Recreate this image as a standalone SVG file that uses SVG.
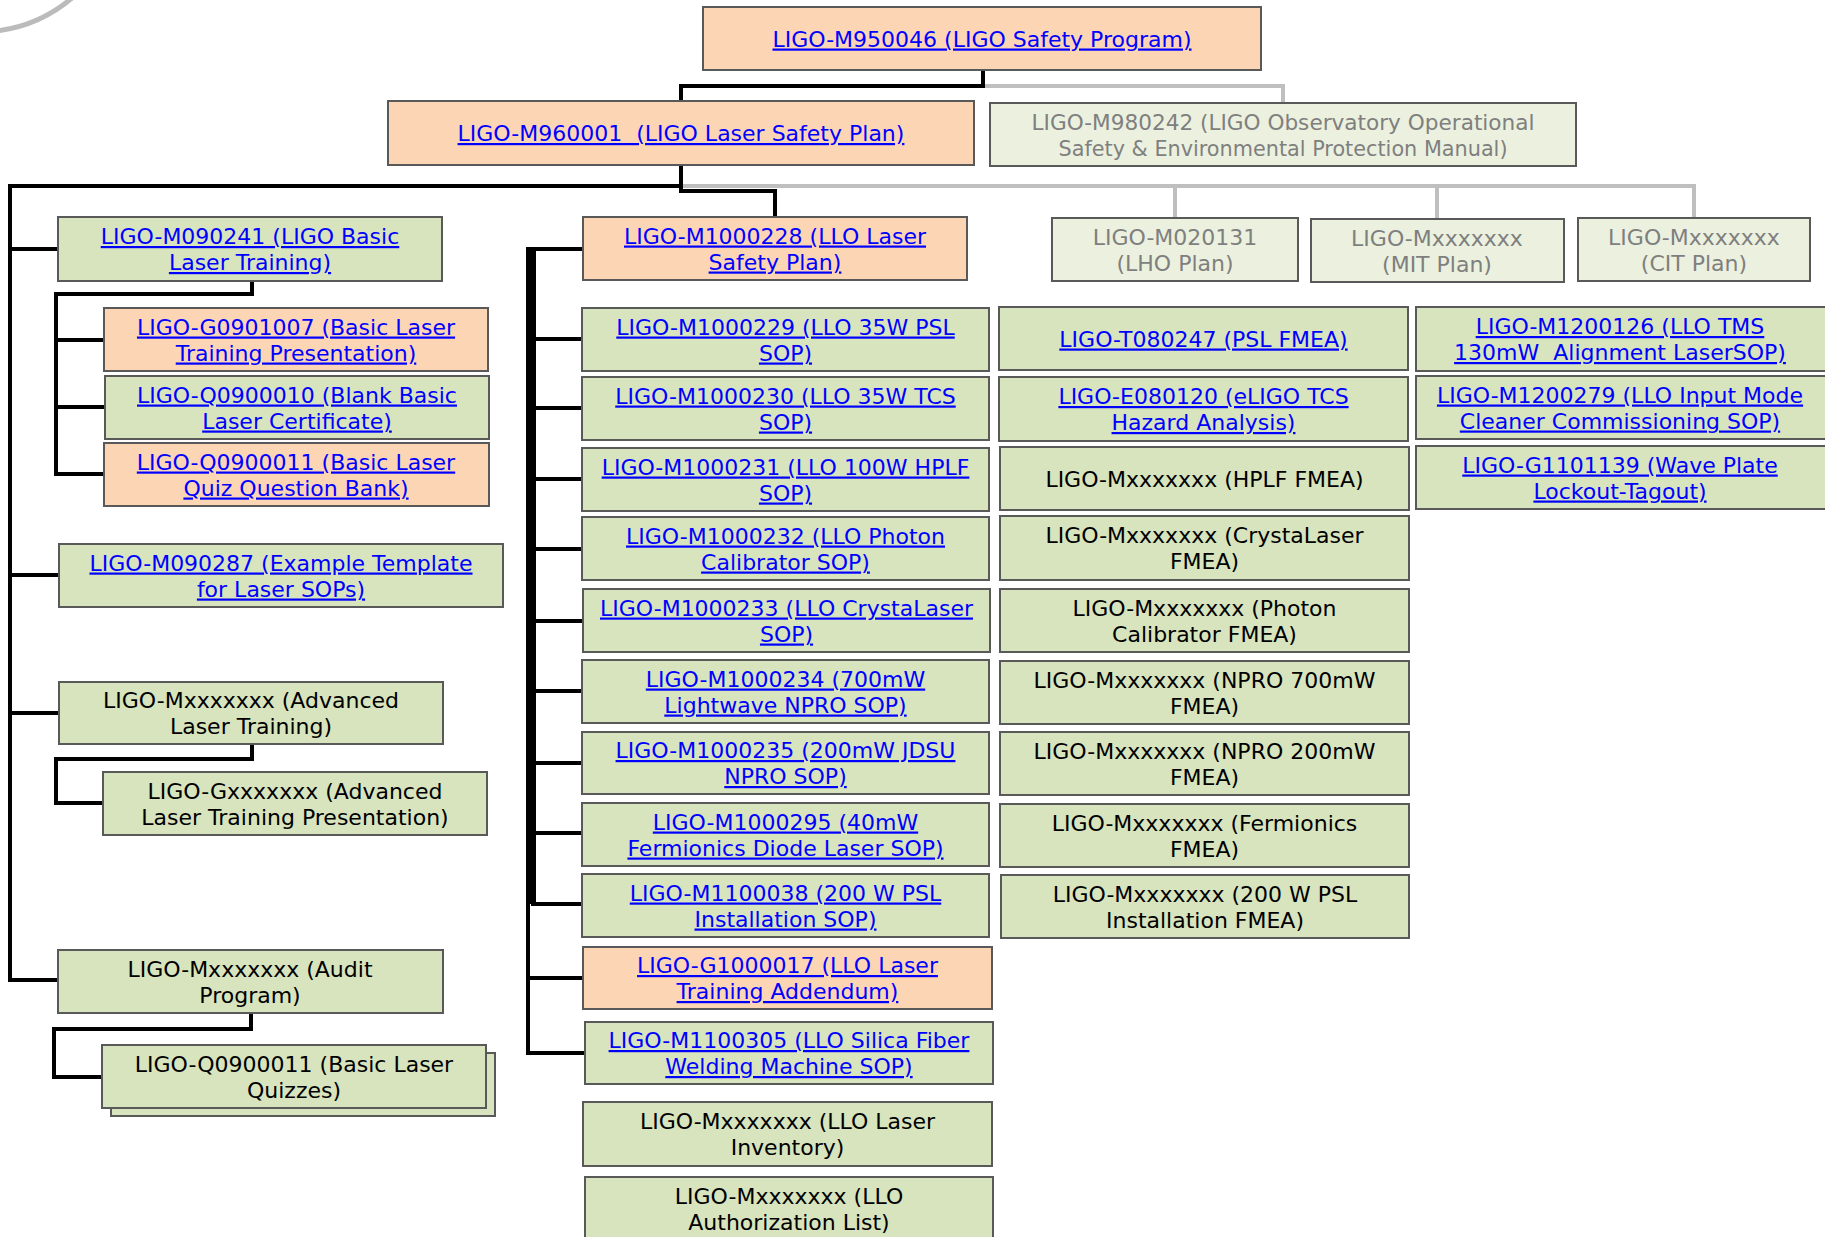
<svg xmlns="http://www.w3.org/2000/svg" width="1825" height="1237" viewBox="0 0 1825 1237">
<style>
.pe{fill:#FCD5B5;stroke:#595959;stroke-width:2}
.gr{fill:#D7E4BD;stroke:#595959;stroke-width:2}
.lg{fill:#EBF1DE;stroke:#595959;stroke-width:2}
text{font-family:"DejaVu Sans","Liberation Sans",sans-serif;font-size:22px;text-anchor:middle;white-space:pre}
.lk{fill:#0000FF;text-decoration:underline}
.bk{fill:#000000}
.gy{fill:#7F7F7F}
.cb{fill:none;stroke:#000000;stroke-width:4;stroke-linejoin:miter}
.cg{fill:none;stroke:#BFBFBF;stroke-width:4}
</style>
<rect x="0" y="0" width="1825" height="1237" fill="#FFFFFF"/>
<path d="M-4,31 A143,143 0 0 0 72,-2" fill="none" stroke="#BBBBBB" stroke-width="5"/>
<g id="connectors">
<path class="cg" d="M983,86 H1283 V103"/>
<path class="cg" d="M681,186 H1694 V218 M1175,186 V218 M1437,186 V219"/>
<path class="cb" d="M983,70 V86 H681 V101"/>
<path class="cb" d="M681,165 V191 H775 V217"/>
<path class="cb" d="M681,186 H10 V980 H58 M10,249 H58 M10,575 H59 M10,713 H59"/>
<path class="cb" d="M252,281 V294 H56 V474 H104 M56,340 H104 M56,407 H105"/>
<path class="cb" d="M252,744 V759 H56 V803 H103"/>
<path class="cb" d="M251,1013 V1029 H54 V1077 H102"/>
<rect x="526" y="247" width="10" height="657" fill="#000000"/>
<path class="cb" d="M528,902 V1053 H585"/>
<path class="cb" d="M530,249 H583 M531,339 H582 M531,408 H582 M531,479 H582 M531,549 H582 M531,621 H583 M531,691 H582 M531,763 H582 M531,833 H582 M531,904 H582 M528,978 H583"/>
</g>
<g id="n_m950046"><rect class="pe" x="703" y="7" width="558" height="63"/><text class="lk" x="982" y="46.5">LIGO-M950046 (LIGO Safety Program)</text></g>
<g id="n_m960001"><rect class="pe" x="388" y="101" width="586" height="64"/><text class="lk" x="681" y="141">LIGO-M960001  (LIGO Laser Safety Plan)</text></g>
<g id="n_m980242"><rect class="lg" x="990" y="103" width="586" height="63"/><text class="gy" x="1283" y="129.5" textLength="503" lengthAdjust="spacingAndGlyphs">LIGO-M980242 (LIGO Observatory Operational</text><text class="gy" x="1283" y="155.5" textLength="449" lengthAdjust="spacingAndGlyphs">Safety &amp; Environmental Protection Manual)</text></g>
<g id="n_lho"><rect class="lg" x="1052" y="218" width="246" height="63"/><text class="gy" x="1175" y="244.5">LIGO-M020131</text><text class="gy" x="1175" y="270.5">(LHO Plan)</text></g>
<g id="n_mit"><rect class="lg" x="1311" y="219" width="253" height="63"/><text class="gy" x="1437" y="245.5">LIGO-Mxxxxxxx</text><text class="gy" x="1437" y="271.5">(MIT Plan)</text></g>
<g id="n_cit"><rect class="lg" x="1578" y="218" width="232" height="63"/><text class="gy" x="1694" y="244.5">LIGO-Mxxxxxxx</text><text class="gy" x="1694" y="270.5">(CIT Plan)</text></g>
<g id="n_m090241"><rect class="gr" x="58" y="217" width="384" height="64"/><text class="lk" x="250" y="244">LIGO-M090241 (LIGO Basic</text><text class="lk" x="250" y="270">Laser Training)</text></g>
<g id="n_g0901007"><rect class="pe" x="104" y="308" width="384" height="63"/><text class="lk" x="296" y="334.5">LIGO-G0901007 (Basic Laser</text><text class="lk" x="296" y="360.5">Training Presentation)</text></g>
<g id="n_q0900010"><rect class="gr" x="105" y="376" width="384" height="63"/><text class="lk" x="297" y="402.5">LIGO-Q0900010 (Blank Basic</text><text class="lk" x="297" y="428.5">Laser Certificate)</text></g>
<g id="n_q0900011_bank"><rect class="pe" x="104" y="443" width="385" height="63"/><text class="lk" x="296" y="469.5">LIGO-Q0900011 (Basic Laser</text><text class="lk" x="296" y="495.5">Quiz Question Bank)</text></g>
<g id="n_m090287"><rect class="gr" x="59" y="544" width="444" height="63"/><text class="lk" x="281" y="570.5">LIGO-M090287 (Example Template</text><text class="lk" x="281" y="596.5">for Laser SOPs)</text></g>
<g id="n_adv_training"><rect class="gr" x="59" y="682" width="384" height="62"/><text class="bk" x="251" y="708">LIGO-Mxxxxxxx (Advanced</text><text class="bk" x="251" y="734">Laser Training)</text></g>
<g id="n_adv_presentation"><rect class="gr" x="103" y="772" width="384" height="63"/><text class="bk" x="295" y="798.5">LIGO-Gxxxxxxx (Advanced</text><text class="bk" x="295" y="824.5">Laser Training Presentation)</text></g>
<g id="n_audit"><rect class="gr" x="58" y="950" width="385" height="63"/><text class="bk" x="250" y="976.5">LIGO-Mxxxxxxx (Audit</text><text class="bk" x="250" y="1002.5">Program)</text></g>
<g id="n_quizzes"><rect class="gr" x="111" y="1053" width="384" height="63"/><rect class="gr" x="102" y="1045" width="384" height="63"/><text class="bk" x="294" y="1071.5">LIGO-Q0900011 (Basic Laser</text><text class="bk" x="294" y="1097.5">Quizzes)</text></g>
<g id="n_m1000228"><rect class="pe" x="583" y="217" width="384" height="63"/><text class="lk" x="775" y="243.5">LIGO-M1000228 (LLO Laser</text><text class="lk" x="775" y="269.5">Safety Plan)</text></g>
<g id="n_m1000229"><rect class="gr" x="582" y="308" width="407" height="63"/><text class="lk" x="785.5" y="334.5">LIGO-M1000229 (LLO 35W PSL</text><text class="lk" x="785.5" y="360.5">SOP)</text></g>
<g id="n_m1000230"><rect class="gr" x="582" y="377" width="407" height="63"/><text class="lk" x="785.5" y="403.5">LIGO-M1000230 (LLO 35W TCS</text><text class="lk" x="785.5" y="429.5">SOP)</text></g>
<g id="n_m1000231"><rect class="gr" x="582" y="448" width="407" height="63"/><text class="lk" x="785.5" y="474.5">LIGO-M1000231 (LLO 100W HPLF</text><text class="lk" x="785.5" y="500.5">SOP)</text></g>
<g id="n_m1000232"><rect class="gr" x="582" y="517" width="407" height="63"/><text class="lk" x="785.5" y="543.5">LIGO-M1000232 (LLO Photon</text><text class="lk" x="785.5" y="569.5">Calibrator SOP)</text></g>
<g id="n_m1000233"><rect class="gr" x="583" y="589" width="407" height="63"/><text class="lk" x="786.5" y="615.5">LIGO-M1000233 (LLO CrystaLaser</text><text class="lk" x="786.5" y="641.5">SOP)</text></g>
<g id="n_m1000234"><rect class="gr" x="582" y="660" width="407" height="63"/><text class="lk" x="785.5" y="686.5">LIGO-M1000234 (700mW</text><text class="lk" x="785.5" y="712.5">Lightwave NPRO SOP)</text></g>
<g id="n_m1000235"><rect class="gr" x="582" y="732" width="407" height="62"/><text class="lk" x="785.5" y="758">LIGO-M1000235 (200mW JDSU</text><text class="lk" x="785.5" y="784">NPRO SOP)</text></g>
<g id="n_m1000295"><rect class="gr" x="582" y="803" width="407" height="63"/><text class="lk" x="785.5" y="829.5">LIGO-M1000295 (40mW</text><text class="lk" x="785.5" y="855.5">Fermionics Diode Laser SOP)</text></g>
<g id="n_m1100038"><rect class="gr" x="582" y="874" width="407" height="63"/><text class="lk" x="785.5" y="900.5">LIGO-M1100038 (200 W PSL</text><text class="lk" x="785.5" y="926.5">Installation SOP)</text></g>
<g id="n_g1000017"><rect class="pe" x="583" y="947" width="409" height="62"/><text class="lk" x="787.5" y="973">LIGO-G1000017 (LLO Laser</text><text class="lk" x="787.5" y="999">Training Addendum)</text></g>
<g id="n_m1100305"><rect class="gr" x="585" y="1022" width="408" height="62"/><text class="lk" x="789" y="1048">LIGO-M1100305 (LLO Silica Fiber</text><text class="lk" x="789" y="1074">Welding Machine SOP)</text></g>
<g id="n_inventory"><rect class="gr" x="583" y="1102" width="409" height="64"/><text class="bk" x="787.5" y="1129">LIGO-Mxxxxxxx (LLO Laser</text><text class="bk" x="787.5" y="1155">Inventory)</text></g>
<g id="n_authlist"><rect class="gr" x="585" y="1177" width="408" height="66"/><text class="bk" x="789" y="1203.5">LIGO-Mxxxxxxx (LLO</text><text class="bk" x="789" y="1229.5">Authorization List)</text></g>
<g id="n_t080247"><rect class="gr" x="999" y="307" width="409" height="63"/><text class="lk" x="1203.5" y="346.5">LIGO-T080247 (PSL FMEA)</text></g>
<g id="n_e080120"><rect class="gr" x="999" y="377" width="409" height="64"/><text class="lk" x="1203.5" y="404">LIGO-E080120 (eLIGO TCS</text><text class="lk" x="1203.5" y="430">Hazard Analysis)</text></g>
<g id="n_hplf_fmea"><rect class="gr" x="1000" y="447" width="409" height="63"/><text class="bk" x="1204.5" y="486.5">LIGO-Mxxxxxxx (HPLF FMEA)</text></g>
<g id="n_crysta_fmea"><rect class="gr" x="1000" y="516" width="409" height="64"/><text class="bk" x="1204.5" y="543">LIGO-Mxxxxxxx (CrystaLaser</text><text class="bk" x="1204.5" y="569">FMEA)</text></g>
<g id="n_photon_fmea"><rect class="gr" x="1000" y="589" width="409" height="63"/><text class="bk" x="1204.5" y="615.5">LIGO-Mxxxxxxx (Photon</text><text class="bk" x="1204.5" y="641.5">Calibrator FMEA)</text></g>
<g id="n_npro700_fmea"><rect class="gr" x="1000" y="661" width="409" height="63"/><text class="bk" x="1204.5" y="687.5">LIGO-Mxxxxxxx (NPRO 700mW</text><text class="bk" x="1204.5" y="713.5">FMEA)</text></g>
<g id="n_npro200_fmea"><rect class="gr" x="1000" y="732" width="409" height="63"/><text class="bk" x="1204.5" y="758.5">LIGO-Mxxxxxxx (NPRO 200mW</text><text class="bk" x="1204.5" y="784.5">FMEA)</text></g>
<g id="n_ferm_fmea"><rect class="gr" x="1000" y="804" width="409" height="63"/><text class="bk" x="1204.5" y="830.5">LIGO-Mxxxxxxx (Fermionics</text><text class="bk" x="1204.5" y="856.5">FMEA)</text></g>
<g id="n_psl200_fmea"><rect class="gr" x="1001" y="875" width="408" height="63"/><text class="bk" x="1205" y="901.5">LIGO-Mxxxxxxx (200 W PSL</text><text class="bk" x="1205" y="927.5">Installation FMEA)</text></g>
<g id="n_m1200126"><rect class="gr" x="1416" y="307" width="414" height="64"/><text class="lk" x="1620" y="334">LIGO-M1200126 (LLO TMS</text><text class="lk" x="1620" y="360">130mW  Alignment LaserSOP)</text></g>
<g id="n_m1200279"><rect class="gr" x="1416" y="376" width="414" height="63"/><text class="lk" x="1620" y="402.5">LIGO-M1200279 (LLO Input Mode</text><text class="lk" x="1620" y="428.5">Cleaner Commissioning SOP)</text></g>
<g id="n_g1101139"><rect class="gr" x="1416" y="446" width="414" height="63"/><text class="lk" x="1620" y="472.5">LIGO-G1101139 (Wave Plate</text><text class="lk" x="1620" y="498.5">Lockout-Tagout)</text></g>
</svg>
